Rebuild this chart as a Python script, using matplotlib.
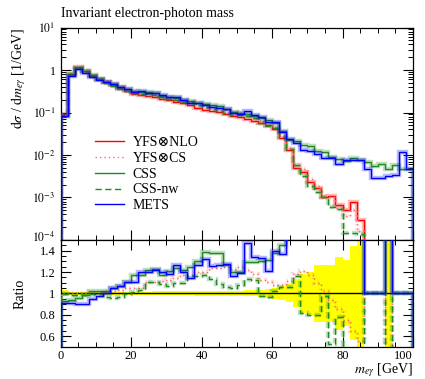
import numpy as np
import matplotlib
matplotlib.use('Agg')
import matplotlib.pyplot as plt
from matplotlib.ticker import MultipleLocator, FixedLocator, FuncFormatter, LogLocator, NullFormatter
from matplotlib.lines import Line2D
from matplotlib.transforms import ScaledTranslation

plt.rcParams['font.family'] = ['Liberation Serif', 'DejaVu Serif']
plt.rcParams['mathtext.fontset'] = 'stix'
plt.rcParams['lines.scale_dashes'] = False

# ---------------- data ----------------
bin_edges = np.arange(0, 102, 2)  # m_egamma bins [GeV]
x_ticks = [0, 20, 40, 60, 80, 100]

yfs_nlo = np.array([
    0.090, 0.80, 1.15, 0.95, 0.74, 0.61, 0.52, 0.44, 0.37, 0.32,
    0.28, 0.265, 0.245, 0.23, 0.21, 0.196, 0.178, 0.164, 0.148, 0.130,
    0.116, 0.108, 0.101, 0.093, 0.085, 0.079, 0.072, 0.064, 0.058, 0.050,
    0.042, 0.0255, 0.013, 0.0049, 0.0039, 0.0023, 0.0017, 0.00105, 0.0011, 0.00068,
    0.00050, 0.00078, 0.00030, 0.0, 0.0, 0.0, 3e-5, 0.0, 0.0, 0.0])

yfs_cs = np.array([
    0.090, 0.80, 1.15, 0.95, 0.747, 0.616, 0.530, 0.449, 0.381, 0.336,
    0.294, 0.278, 0.270, 0.255, 0.235, 0.220, 0.203, 0.192, 0.173, 0.156,
    0.139, 0.134, 0.125, 0.116, 0.104, 0.0988, 0.0878, 0.0755, 0.0655, 0.0555,
    0.0454, 0.0275, 0.01456, 0.00578, 0.00472, 0.00269, 0.00187, 0.00107, 0.00103, 0.000578,
    0.000375, 0.000507, 0.000165, 0.0, 0.0, 0.0, 0.0, 0.0, 0.0, 0.0])

css = np.array([
    0.0837, 0.752, 1.104, 0.931, 0.755, 0.622, 0.530, 0.462, 0.396, 0.355,
    0.328, 0.310, 0.299, 0.283, 0.246, 0.237, 0.221, 0.200, 0.184, 0.170,
    0.161, 0.149, 0.139, 0.118, 0.102, 0.0948, 0.0929, 0.0826, 0.0754, 0.0655,
    0.0580, 0.0370, 0.022, 0.021, 0.017, 0.016, 0.0125, 0.0115, 0.0088, 0.0080,
    0.0074, 0.0084, 0.0078, 0.0068, 0.0055, 0.0060, 0.0046, 0.0058, 0.0047, 0.0048])

css_nw = np.array([
    0.0891, 0.784, 1.127, 0.931, 0.733, 0.604, 0.504, 0.422, 0.359, 0.317,
    0.283, 0.273, 0.272, 0.255, 0.229, 0.210, 0.196, 0.180, 0.172, 0.151,
    0.136, 0.123, 0.110, 0.0986, 0.0893, 0.0853, 0.0814, 0.0723, 0.0568, 0.0485,
    0.0428, 0.0270, 0.0138, 0.00568, 0.00320, 0.00184, 0.00136, 0.00102, 0.000583, 0.000530,
    0.00015, 0.00015, 0.000135, 0.0, 0.0, 0.0, 0.0, 0.0, 0.0, 0.0])

mets = np.array([
    0.0819, 0.728, 1.035, 0.855, 0.703, 0.595, 0.520, 0.462, 0.396, 0.355,
    0.311, 0.318, 0.294, 0.281, 0.252, 0.231, 0.226, 0.197, 0.169, 0.165,
    0.153, 0.136, 0.128, 0.119, 0.0986, 0.0940, 0.106, 0.0858, 0.0771, 0.0605,
    0.0588, 0.0349, 0.024, 0.019, 0.013, 0.0125, 0.0105, 0.0087, 0.0086, 0.0060,
    0.0078, 0.0077, 0.0076, 0.0048, 0.0029, 0.0029, 0.0032, 0.0034, 0.0120, 0.0047])

# relative uncertainty of the reference (YFS x NLO)
yfs_nlo_relerr = np.array([
    0.028, 0.016, 0.013, 0.013, 0.013, 0.014, 0.014, 0.015, 0.015, 0.016,
    0.016, 0.017, 0.017, 0.018, 0.018, 0.019, 0.019, 0.020, 0.020, 0.021,
    0.022, 0.022, 0.023, 0.024, 0.025, 0.026, 0.027, 0.028, 0.035, 0.040,
    0.050, 0.065, 0.085, 0.13, 0.18, 0.20, 0.27, 0.27, 0.27, 0.34,
    0.31, 0.44, 0.90, 0.0, 0.0, 0.0, 0.90, 0.0, 0.0, 0.0])

labels = ['YFS\u2297NLO', 'YFS\u2297CS', 'CSS', 'CSS-nw', 'METS']

# ---------------- styles ----------------
RED = '#ff0000'
PINK = '#ff6a6a'
GREEN = '#1e8c1e'
BLUE = '#0000ff'
DASH = (0, (4.5, 2.5))
DOT = (0, (1.0, 2.2))

series = [
    (yfs_nlo, labels[0], RED, '-'),
    (yfs_cs, labels[1], PINK, DOT),
    (css, labels[2], GREEN, '-'),
    (css_nw, labels[3], GREEN, DASH),
    (mets, labels[4], BLUE, '-'),
]


def ratio_to_ref(v):
    out = np.ones_like(v)
    m = yfs_nlo > 0
    out[m] = v[m] / yfs_nlo[m]
    return out


fig = plt.figure(figsize=(4.25, 3.79), dpi=100)
ax1 = fig.add_axes([0.1424, 0.3668, 0.8294, 0.5606])
ax2 = fig.add_axes([0.1424, 0.0852, 0.8294, 0.2816], sharex=ax1)

# ---------------- upper panel ----------------
for i, (v, lab, col, ls) in enumerate(series):
    vv = np.where(v > 0, v, 1e-12)
    ax1.stairs(vv, bin_edges, color=col, lw=3.2, alpha=0.28, linestyle=ls, zorder=2 + i)
    ax1.stairs(vv, bin_edges, color=col, lw=1.0, linestyle=ls, zorder=2.5 + i)

ax1.set_yscale('log')
ax1.set_ylim(1e-4, 10)
ax1.set_xlim(0, 100)


def logfmt(y, pos):
    e = int(round(np.log10(y)))
    if e == 0:
        return '1'
    return r'$10^{%d}$' % e


ax1.yaxis.set_major_locator(LogLocator(base=10, numticks=10))
ax1.yaxis.set_major_formatter(FuncFormatter(logfmt))
ax1.yaxis.set_minor_locator(LogLocator(base=10, subs=np.arange(2, 10), numticks=20))
ax1.yaxis.set_minor_formatter(NullFormatter())
ax1.tick_params(labelbottom=False)

handles = [Line2D([], [], color=c, lw=1.0, linestyle=ls) for (_, _, c, ls) in series]
ax1.legend(handles, labels, loc='center left', bbox_to_anchor=(0.098, 0.31),
           frameon=False, fontsize=10, handlelength=2.1, handletextpad=0.6,
           labelspacing=0.2, borderaxespad=0, borderpad=0)

# ---------------- ratio panel ----------------
ax2.stairs(1 + yfs_nlo_relerr, bin_edges, baseline=1 - yfs_nlo_relerr, fill=True,
           color='#ffff00', lw=0, zorder=1)
ax2.stairs(ratio_to_ref(yfs_nlo), bin_edges, color='black', lw=1.0, zorder=2)
for i, (v, lab, col, ls) in enumerate(series[1:]):
    r = ratio_to_ref(v)
    ax2.stairs(r, bin_edges, color=col, lw=3.2, alpha=0.28, linestyle=ls, zorder=3 + i)
    ax2.stairs(r, bin_edges, color=col, lw=1.0, linestyle=ls, zorder=3.5 + i)

ax2.set_ylim(0.5, 1.5)
ax2.set_xlim(0, 100)
ax2.yaxis.set_major_locator(FixedLocator([0.6, 0.8, 1.0, 1.2, 1.4]))
ax2.yaxis.set_major_formatter(FuncFormatter(lambda y, p: '%g' % y))
ax2.yaxis.set_minor_locator(MultipleLocator(0.05))

for ax in (ax1, ax2):
    ax.xaxis.set_major_locator(FixedLocator(x_ticks))
    ax.xaxis.set_minor_locator(MultipleLocator(5))
    ax.tick_params(which='both', direction='in', top=True, right=True, labelsize=9)
    ax.tick_params(which='major', length=7, width=0.8)
    ax.tick_params(which='minor', length=3.5, width=0.7)
    ax.tick_params(axis='x', pad=2.5)
    for s in ax.spines.values():
        s.set_linewidth(0.9)

ax1.tick_params(axis='y', labelsize=8.5)
ax2.xaxis.set_major_formatter(FuncFormatter(lambda x, p: '%g' % x))

# ---------------- texts ----------------
fig.text(0.1424, 0.964, 'Invariant electron-photon mass', ha='left', va='center', fontsize=10)
fig.text(0.045, 0.927, r'$\mathrm{d}\sigma$ / $\mathrm{d}m_{e\gamma}$ [1/GeV]',
         rotation=90, ha='center', va='top', fontsize=10)
fig.text(0.047, 1 - 293.5 / 379, 'Ratio', rotation=90, ha='center', va='center', fontsize=10)
fig.text(0.9718, 0.0, r'$m_{e\gamma}$ [GeV]', ha='right', va='bottom', fontsize=10)

fig.canvas.draw()
xt = ax2.get_xticklabels()
xt[-1].set_horizontalalignment('right')
# nudge the lowest decade label of the upper panel slightly upwards
for lab in ax1.get_yticklabels():
    if lab.get_text() == r'$10^{-4}$':
        lab.set_transform(lab.get_transform() + ScaledTranslation(0, 2.5 / 72, fig.dpi_scale_trans))

fig.savefig('out.png', dpi=100)
